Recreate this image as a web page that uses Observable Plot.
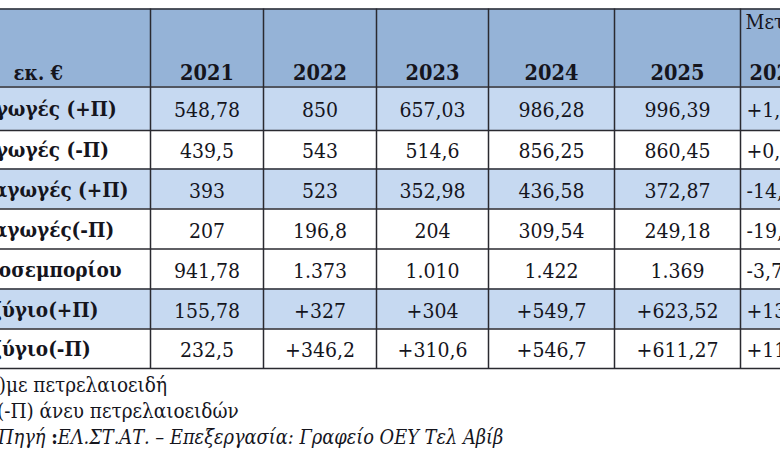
<!DOCTYPE html>
<html><head><meta charset="utf-8">
<script src="https://cdn.jsdelivr.net/npm/d3@7"></script>
<script src="https://cdn.jsdelivr.net/npm/@observablehq/plot@0.6"></script>
<style>
body{margin:0;background:#fff;width:780px;height:454px;overflow:hidden;}
#chart svg{display:block;font-family:"DejaVu Serif Condensed","DejaVu Serif",serif;font-stretch:condensed;}
#notes{font-family:"DejaVu Serif Condensed","DejaVu Serif",serif;font-stretch:condensed;font-size:20.5px;line-height:26px;color:#15151d;white-space:nowrap;margin-top:0px;}
#notes div{position:relative;}
#notes div.src{font-size:19.8px;}
</style></head><body>
<div id="chart"></div>
<div id="notes"></div>
<script>
// ---- data ----
const unitLabel = "εκ. €";
const years = ["2021", "2022", "2023", "2024", "2025"];
const rowLabels = ["Εξαγωγές (+Π)", "Εξαγωγές (-Π)", "Εισαγωγές (+Π)", "Εισαγωγές(-Π)", "Όγκοσεμπορίου", "Ισοζύγιο(+Π)", "Ισοζύγιο(-Π)"];
const values2021 = ["548,78", "439,5", "393", "207", "941,78", "155,78", "232,5"];
const values2022 = ["850", "543", "523", "196,8", "1.373", "+327", "+346,2"];
const values2023 = ["657,03", "514,6", "352,98", "204", "1.010", "+304", "+310,6"];
const values2024 = ["986,28", "856,25", "436,58", "309,54", "1.422", "+549,7", "+546,7"];
const values2025 = ["996,39", "860,45", "372,87", "249,18", "1.369", "+623,52", "+611,27"];
const changeTitle = "Μεταβολή";
const changeYears = "2025/2024";
const changeValues = ["+1,03%", "+0,49%", "-14,59%", "-19,5%", "-3,73%", "+13,43%", "+11,81%"];
const shadedRows = ["Εξαγωγές (+Π)", "Εισαγωγές (+Π)", "Ισοζύγιο(+Π)"];
const footnotes = ["(+Π)με πετρελαιοειδή", "(-Π) άνευ πετρελαιοειδών", "Πηγή :ΕΛ.ΣΤ.ΑΤ. – Επεξεργασία: Γραφείο ΟΕΥ Τελ Αβίβ"];

// ---- layout ----
const yearValues = [values2021, values2022, values2023, values2024, values2025];
const colWidths = [184, 113, 113, 112, 126, 126, 140];
const colEdges = [-34];
colWidths.forEach(w => colEdges.push(colEdges[colEdges.length - 1] + w));
const colStart = i => colEdges[i], colMid = i => (colEdges[i] + colEdges[i + 1]) / 2;
const headerTop = 8.5, headerBottom = 86.5;
const rowEdges = [headerBottom, 130, 168.5, 208.5, 248.5, 288.5, 328.5, 368];
const rowTop = i => rowEdges[i], rowBot = i => rowEdges[i + 1], rowMid = i => (rowEdges[i] + rowEdges[i + 1]) / 2;
const H = 372;
const ink = "#15151d";

const rows = rowLabels.map((label, i) => ({label, i}));
const cells = [];
rows.forEach(r => {
  yearValues.forEach((vals, j) => cells.push({row: r.i, col: j + 1, text: vals[r.i]}));
});
const changeCells = rows.map(r => ({row: r.i, text: changeValues[r.i]}));
const yearCells = years.map((y, j) => ({col: j + 1, text: y}));

const chart = Plot.plot({
  width: 780,
  height: H,
  margin: 0,
  x: {type: "linear", domain: [0, 780], range: [0, 780], axis: null},
  y: {type: "linear", domain: [0, H], range: [0, H], axis: null},
  style: {background: "#fff", overflow: "hidden"},
  marks: [
    Plot.rect([0], {x1: colStart(0), x2: colEdges[colEdges.length - 1], y1: headerTop, y2: headerBottom, fill: "#95b3d7"}),
    Plot.rect(rows.filter(r => shadedRows.includes(r.label)), {x1: colStart(0), x2: colEdges[colEdges.length - 1], y1: r => rowTop(r.i), y2: r => rowBot(r.i), fill: "#c6d9f1"}),
    Plot.ruleY([headerTop, ...rowEdges], {x1: colStart(0), x2: colEdges[colEdges.length - 1], y: d => d, stroke: "#2a2a30", strokeWidth: 1.5}),
    Plot.ruleX(colEdges.slice(1, -1), {x: d => d, y1: headerTop, y2: rowEdges[rowEdges.length - 1], stroke: "#2a2a30", strokeWidth: 1.5}),
    Plot.text([unitLabel], {x: colStart(0) + 47, y: 73, text: d => d, textAnchor: "start", fontSize: 20, fontWeight: "bold", fill: ink}),
    Plot.text(yearCells, {x: d => colMid(d.col), y: 73, text: "text", textAnchor: "middle", fontSize: 21.5, fontWeight: "bold", fill: ink}),
    Plot.text([changeTitle], {x: colStart(6) + 5, y: 22, text: d => d, textAnchor: "start", fontSize: 20.5, fill: ink}),
    Plot.text([changeYears], {x: colStart(6) + 9, y: 73, text: d => d, textAnchor: "start", fontSize: 21.5, fontWeight: "bold", fill: ink}),
    Plot.text(rows, {x: colStart(0) - 10, y: r => rowMid(r.i) + 1, text: "label", textAnchor: "start", fontSize: 20.5, fontWeight: "bold", fill: ink}),
    Plot.text(cells, {x: d => colMid(d.col), y: d => rowMid(d.row) + 2, text: "text", textAnchor: "middle", fontSize: 21, fill: ink}),
    Plot.text(changeCells, {x: colStart(6) + 6, y: d => rowMid(d.row) + 2, text: "text", textAnchor: "start", fontSize: 21, fill: ink})
  ]
});
document.getElementById("chart").appendChild(chart);

const notes = document.getElementById("notes");
const offsets = [-40, -3, -2];
footnotes.forEach((t, i) => {
  const div = document.createElement("div");
  div.style.left = offsets[i] + "px";
  if (i === 2) {
    div.className = "src";
    const k = t.indexOf(":");
    const a = t.slice(0, k), b = t.slice(k + 1);
    div.innerHTML = `<i>${a}</i><b>:</b><i>${b}</i>`;
  } else div.textContent = t;
  notes.appendChild(div);
});
</script>
</body></html>
